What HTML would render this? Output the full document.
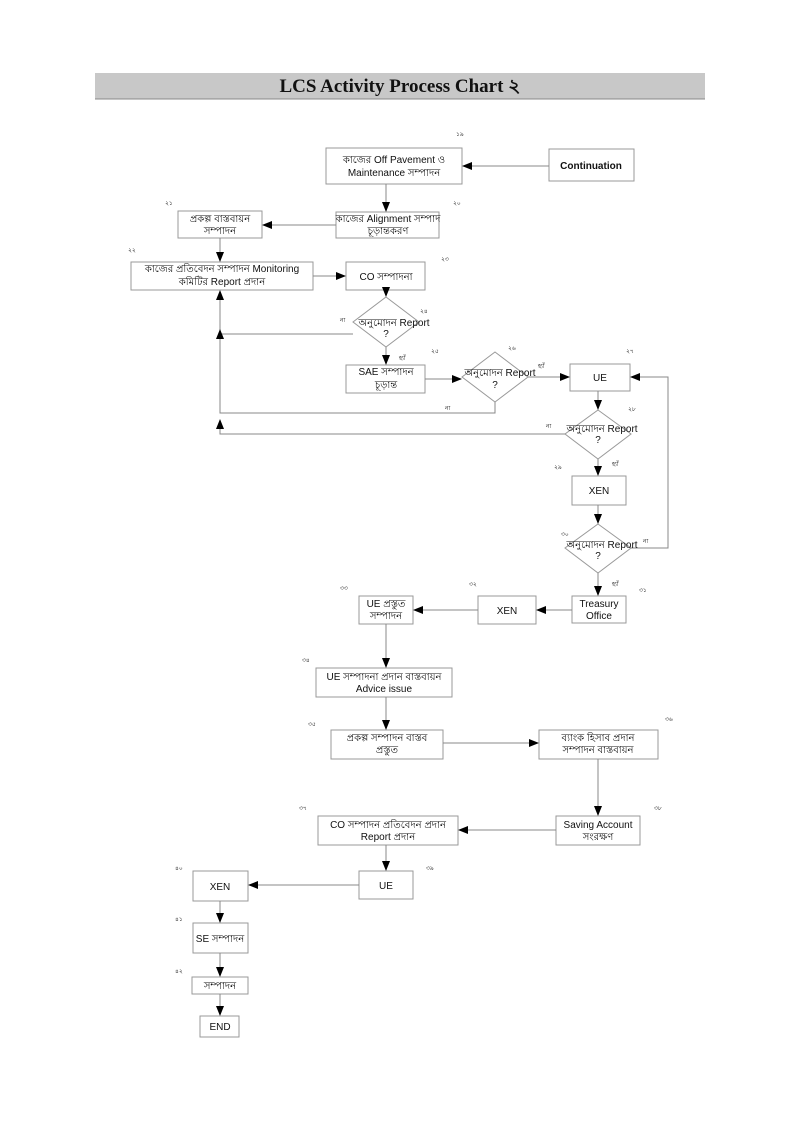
<!DOCTYPE html>
<html><head><meta charset="utf-8"><style>
body{margin:0;background:#fff}
svg{display:block}
text{font-family:"Liberation Sans","Noto Sans CJK SC",sans-serif;font-size:10px;fill:#111}
.s{font-size:6px}
</style></head><body>
<svg width="800" height="1131" viewBox="0 0 800 1131">
<defs><marker id="a" markerWidth="10" markerHeight="8" refX="9" refY="4" orient="auto" markerUnits="userSpaceOnUse"><path d="M0,0 L10,4 L0,8z" fill="#000"/></marker></defs>
<rect x="95" y="73" width="610" height="26" fill="#c8c8c8"/>
<line x1="95" y1="99" x2="705" y2="99" stroke="#888"/>
<text x="400" y="92" text-anchor="middle" style="font-family:'Liberation Serif',serif;font-size:19px;font-weight:bold">LCS Activity Process Chart ২</text>
<g fill="#fff" stroke="#999" stroke-width="1">
<rect x="326" y="148" width="136" height="36"/>
<rect x="549" y="149" width="85" height="32"/>
<rect x="336" y="212" width="103" height="26"/>
<rect x="178" y="211" width="84" height="27"/>
<rect x="131" y="262" width="182" height="28"/>
<rect x="346" y="262" width="79" height="28"/>
<polygon points="386,297 419,322 386,347 353,322"/>
<rect x="346" y="365" width="79" height="28"/>
<polygon points="495,352 528,377 495,402 462,377"/>
<rect x="570" y="364" width="60" height="27"/>
<polygon points="598,410 631,434 598,459 565,434"/>
<rect x="572" y="476" width="54" height="29"/>
<polygon points="598,524 631,548 598,573 565,548"/>
<rect x="572" y="596" width="54" height="27"/>
<rect x="478" y="596" width="58" height="28"/>
<rect x="359" y="596" width="54" height="28"/>
<rect x="316" y="668" width="136" height="29"/>
<rect x="331" y="730" width="112" height="29"/>
<rect x="539" y="730" width="119" height="29"/>
<rect x="556" y="816" width="84" height="29"/>
<rect x="318" y="816" width="140" height="29"/>
<rect x="359" y="871" width="54" height="28"/>
<rect x="193" y="871" width="55" height="30"/>
<rect x="193" y="923" width="55" height="30"/>
<rect x="192" y="977" width="56" height="17"/>
<rect x="200" y="1016" width="39" height="21"/>
</g>
<g stroke="#888" fill="none" stroke-width="1" marker-end="url(#a)">
<line x1="549" y1="166" x2="463" y2="166"/>
<line x1="386" y1="184" x2="386" y2="211"/>
<line x1="336" y1="225" x2="263" y2="225"/>
<line x1="220" y1="238" x2="220" y2="261"/>
<line x1="313" y1="276" x2="345" y2="276"/>
<line x1="386" y1="290" x2="386" y2="296"/>
<polyline points="353,334 220,334 220,291"/>
<line x1="386" y1="347" x2="386" y2="364"/>
<line x1="425" y1="379" x2="461" y2="379"/>
<polyline points="495,402 495,413 220,413 220,330"/>
<line x1="528" y1="377" x2="569" y2="377"/>
<line x1="598" y1="391" x2="598" y2="409"/>
<polyline points="565,434 220,434 220,420"/>
<line x1="598" y1="459" x2="598" y2="475"/>
<line x1="598" y1="505" x2="598" y2="523"/>
<polyline points="631,548 668,548 668,377 631,377"/>
<line x1="598" y1="573" x2="598" y2="595"/>
<line x1="572" y1="610" x2="537" y2="610"/>
<line x1="478" y1="610" x2="414" y2="610"/>
<line x1="386" y1="624" x2="386" y2="667"/>
<line x1="386" y1="697" x2="386" y2="729"/>
<line x1="443" y1="743" x2="538" y2="743"/>
<line x1="598" y1="759" x2="598" y2="815"/>
<line x1="556" y1="830" x2="459" y2="830"/>
<line x1="386" y1="845" x2="386" y2="870"/>
<line x1="359" y1="885" x2="249" y2="885"/>
<line x1="220" y1="901" x2="220" y2="922"/>
<line x1="220" y1="953" x2="220" y2="976"/>
<line x1="220" y1="994" x2="220" y2="1015"/>
</g>
<g text-anchor="middle">
<text x="394" y="163">কাজের Off Pavement ও</text>
<text x="394" y="176">Maintenance সম্পাদন</text>
<text x="591" y="169" style="font-weight:bold">Continuation</text>
<text x="388" y="222">কাজের Alignment সম্পাদ</text>
<text x="388" y="234">চূড়ান্তকরণ</text>
<text x="220" y="222">প্রকল্প বাস্তবায়ন</text>
<text x="220" y="234">সম্পাদন</text>
<text x="222" y="272">কাজের প্রতিবেদন সম্পাদন Monitoring</text>
<text x="222" y="285">কমিটির Report প্রদান</text>
<text x="386" y="280">CO সম্পাদনা</text>
<text x="394" y="326">অনুমোদন Report</text><text x="386" y="337">?</text>
<text x="386" y="375">SAE সম্পাদন</text><text x="386" y="388">চূড়ান্ত</text>
<text x="500" y="376">অনুমোদন Report</text><text x="495" y="388">?</text>
<text x="600" y="381">UE</text>
<text x="602" y="432">অনুমোদন Report</text><text x="598" y="443">?</text>
<text x="599" y="494">XEN</text>
<text x="602" y="548">অনুমোদন Report</text><text x="598" y="559">?</text>
<text x="599" y="607">Treasury</text><text x="599" y="619">Office</text>
<text x="507" y="614">XEN</text>
<text x="386" y="607">UE প্রস্তুত</text><text x="386" y="619">সম্পাদন</text>
<text x="384" y="680">UE সম্পাদনা প্রদান বাস্তবায়ন</text><text x="384" y="692">Advice issue</text>
<text x="387" y="741">প্রকল্প সম্পাদন বাস্তব</text><text x="387" y="753">প্রস্তুত</text>
<text x="598" y="741">ব্যাংক হিসাব প্রদান</text><text x="598" y="753">সম্পাদন বাস্তবায়ন</text>
<text x="598" y="828">Saving Account</text><text x="598" y="840">সংরক্ষণ</text>
<text x="388" y="828">CO সম্পাদন প্রতিবেদন প্রদান</text><text x="388" y="840">Report প্রদান</text>
<text x="386" y="889">UE</text>
<text x="220" y="890">XEN</text>
<text x="220" y="942">SE সম্পাদন</text>
<text x="220" y="989">সম্পাদন</text>
<text x="220" y="1030">END</text>
</g>
<g class="s">
<text class="s" x="456" y="136">১৯</text><text class="s" x="453" y="205">২০</text>
<text class="s" x="165" y="205">২১</text><text class="s" x="128" y="252">২২</text>
<text class="s" x="441" y="261">২৩</text><text class="s" x="420" y="313">২৪</text>
<text class="s" x="340" y="322">না</text><text class="s" x="399" y="360">হ্যাঁ</text>
<text class="s" x="431" y="353">২৫</text><text class="s" x="508" y="350">২৬</text>
<text class="s" x="538" y="368">হ্যাঁ</text><text class="s" x="445" y="410">না</text>
<text class="s" x="626" y="353">২৭</text><text class="s" x="628" y="411">২৮</text>
<text class="s" x="546" y="428">না</text><text class="s" x="612" y="466">হ্যাঁ</text>
<text class="s" x="554" y="469">২৯</text><text class="s" x="561" y="536">৩০</text>
<text class="s" x="643" y="543">না</text><text class="s" x="612" y="586">হ্যাঁ</text>
<text class="s" x="639" y="592">৩১</text><text class="s" x="469" y="586">৩২</text>
<text class="s" x="340" y="590">৩৩</text><text class="s" x="302" y="662">৩৪</text>
<text class="s" x="308" y="726">৩৫</text><text class="s" x="665" y="721">৩৬</text>
<text class="s" x="299" y="810">৩৭</text><text class="s" x="654" y="810">৩৮</text>
<text class="s" x="426" y="870">৩৯</text><text class="s" x="175" y="870">৪০</text>
<text class="s" x="175" y="921">৪১</text><text class="s" x="175" y="973">৪২</text>
</g>
</svg>
</body></html>
